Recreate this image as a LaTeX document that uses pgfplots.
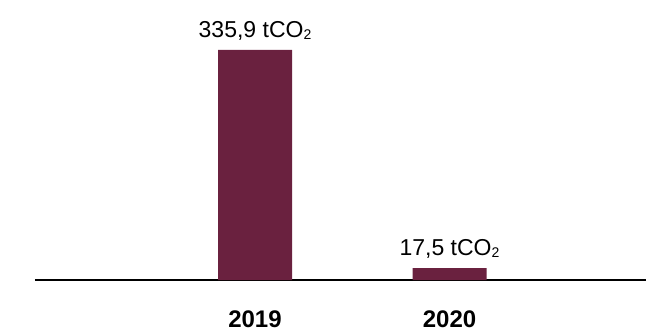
\documentclass[border=0pt]{standalone}
\usepackage{pgfplots}
\pgfplotsset{compat=1.18}
\usepackage{fontspec}
\setmainfont{Liberation Sans}
\definecolor{barc}{HTML}{6A213F}
\begin{document}
\begin{tikzpicture}[x=1pt,y=1pt]
\useasboundingbox (-35,-53) rectangle (611,280);
\begin{axis}[
  at={(0,0)}, anchor=south west,
  scale only axis,
  width=611pt, height=274pt,
  xmin=-1.131, xmax=2.010,
  ymin=0, ymax=400,
  axis x line=bottom, axis y line=none,
  axis line style={line width=1.8pt,-},
  x axis line style={-},
  xtick={0,1}, xticklabels={2019,2020},
  xticklabel style={font=\fontsize{24}{24}\selectfont\bfseries, yshift=-27pt},
  major tick length=0pt,
  ybar, bar width=74pt,
  nodes near coords,
  nodes near coords style={font=\fontsize{23}{23}\selectfont, yshift=6pt},
  point meta=explicit symbolic,
  clip=false,
]
\addplot[fill=barc, draw=none] coordinates {(0,335.9) [335,9 tCO{\fontsize{14}{14}\selectfont\raisebox{-2pt}{2}}] (1,17.5) [17,5 tCO{\fontsize{14}{14}\selectfont\raisebox{-2pt}{2}}]};
\end{axis}
\end{tikzpicture}
\end{document}
